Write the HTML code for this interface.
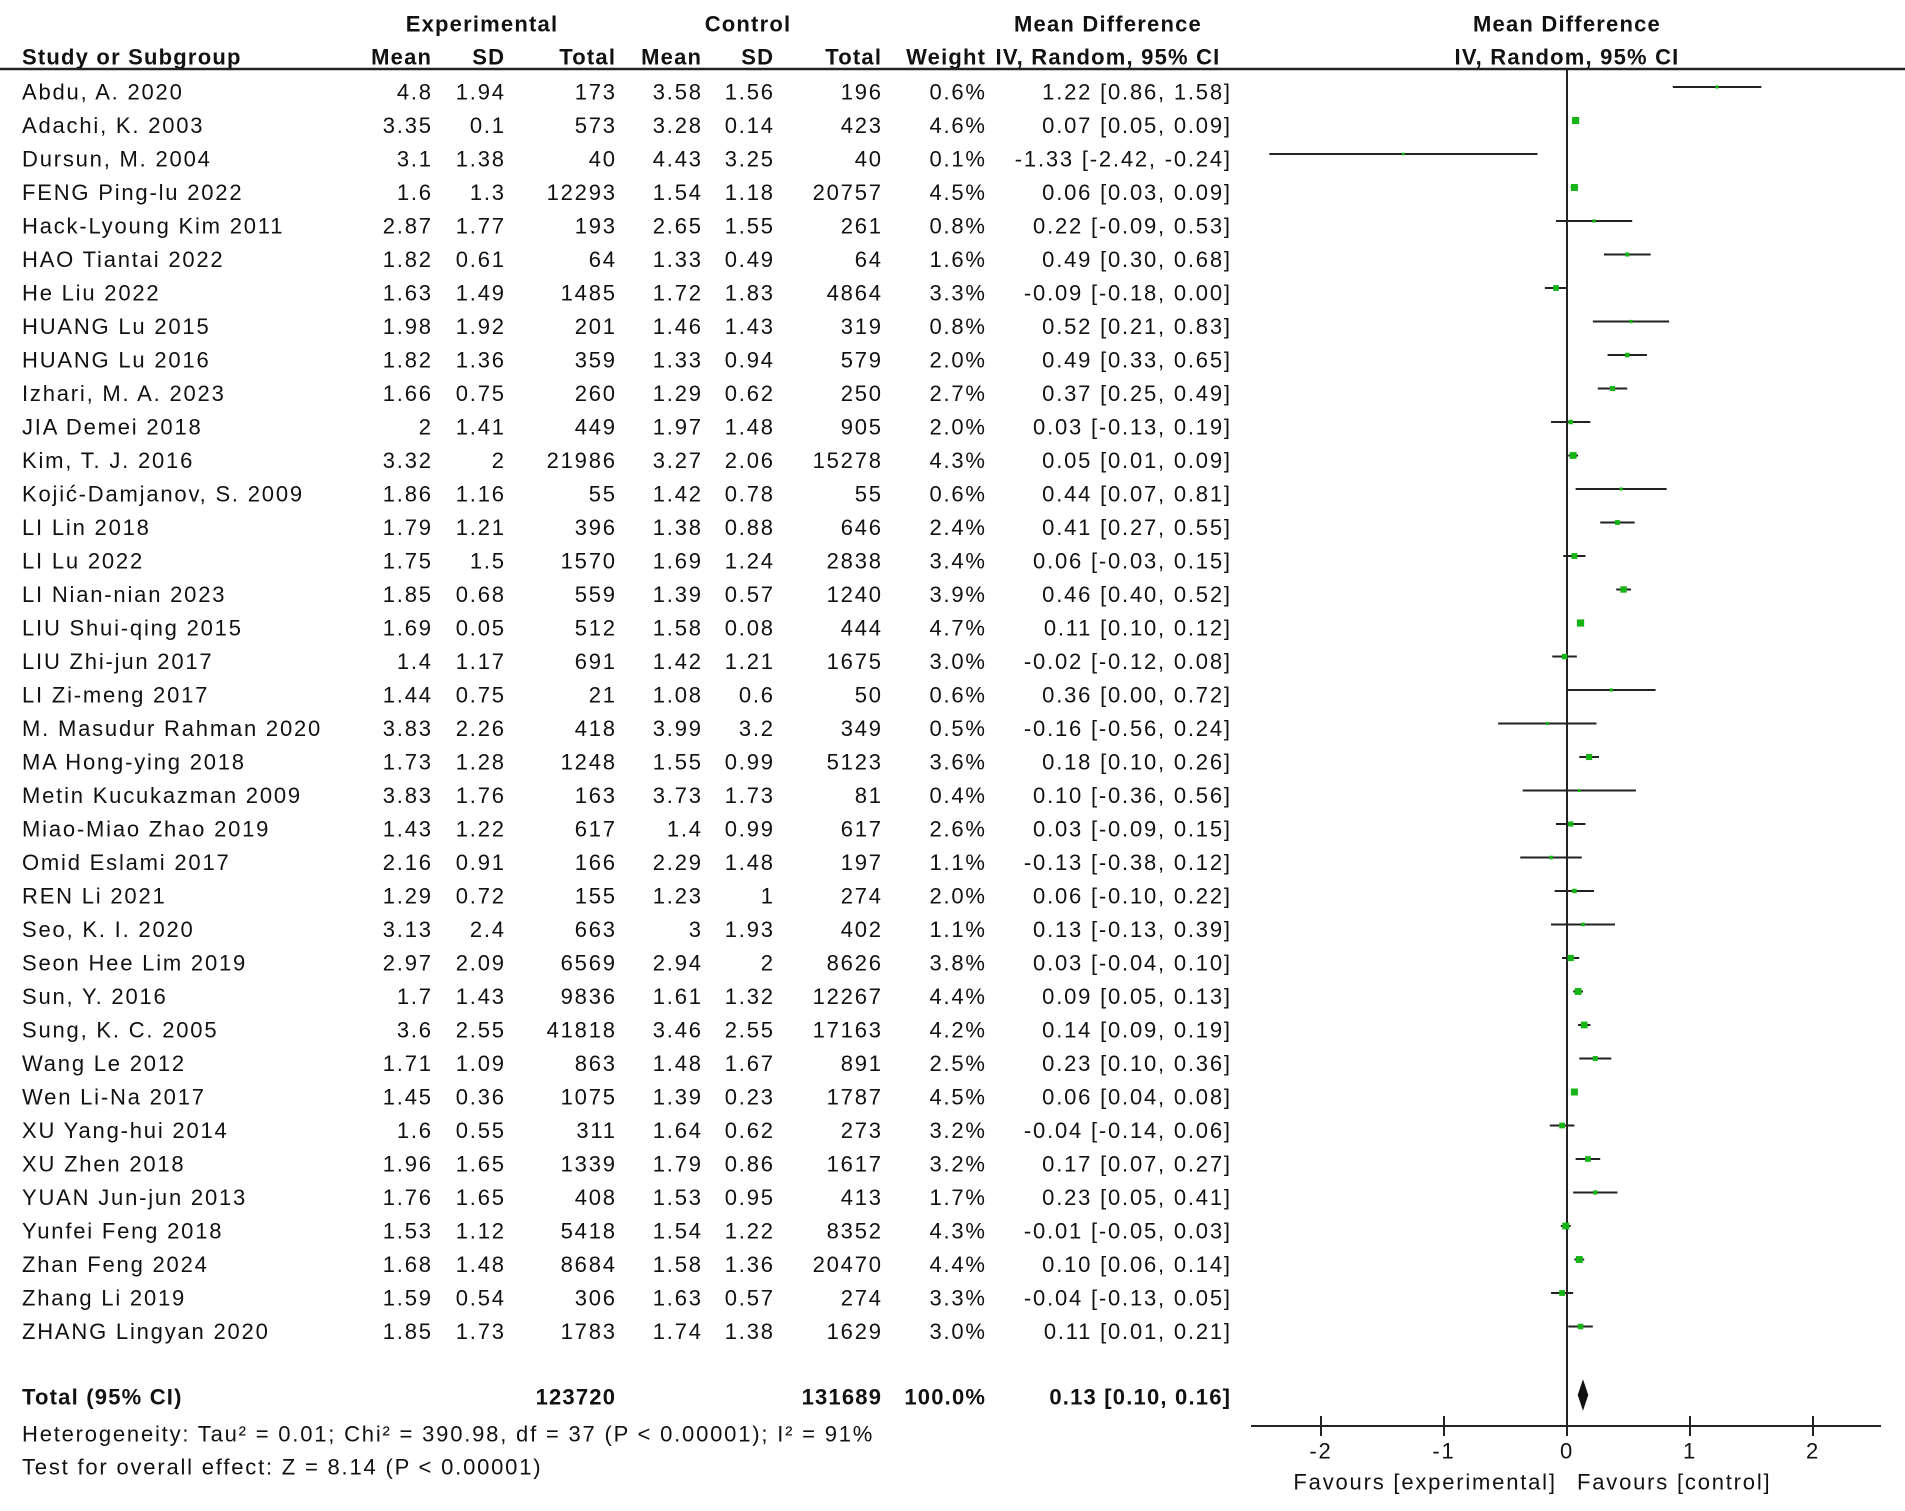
<!DOCTYPE html>
<html><head><meta charset="utf-8">
<style>
html,body{margin:0;padding:0;background:#fff;}
body{width:1905px;height:1511px;position:relative;overflow:hidden;font-family:"Liberation Sans",Arial,sans-serif;color:#111;}
svg{position:absolute;left:0;top:0;}
</style></head>
<body>
<svg id="chart" width="1905" height="1511" xmlns="http://www.w3.org/2000/svg"></svg>
<script>
const studies=["Abdu, A. 2020","Adachi, K. 2003","Dursun, M. 2004","FENG Ping-lu 2022","Hack-Lyoung Kim 2011","HAO Tiantai 2022","He Liu 2022","HUANG Lu 2015","HUANG Lu 2016","Izhari, M. A. 2023","JIA Demei 2018","Kim, T. J. 2016","Kojić-Damjanov, S. 2009","LI Lin 2018","LI Lu 2022","LI Nian-nian 2023","LIU Shui-qing 2015","LIU Zhi-jun 2017","LI Zi-meng 2017","M. Masudur Rahman 2020","MA Hong-ying 2018","Metin Kucukazman 2009","Miao-Miao Zhao 2019","Omid Eslami 2017","REN Li 2021","Seo, K. I. 2020","Seon Hee Lim 2019","Sun, Y. 2016","Sung, K. C. 2005","Wang Le 2012","Wen Li-Na 2017","XU Yang-hui 2014","XU Zhen 2018","YUAN Jun-jun 2013","Yunfei Feng 2018","Zhan Feng 2024","Zhang Li 2019","ZHANG Lingyan 2020"];
const expMean=["4.8","3.35","3.1","1.6","2.87","1.82","1.63","1.98","1.82","1.66","2","3.32","1.86","1.79","1.75","1.85","1.69","1.4","1.44","3.83","1.73","3.83","1.43","2.16","1.29","3.13","2.97","1.7","3.6","1.71","1.45","1.6","1.96","1.76","1.53","1.68","1.59","1.85"];
const expSD=["1.94","0.1","1.38","1.3","1.77","0.61","1.49","1.92","1.36","0.75","1.41","2","1.16","1.21","1.5","0.68","0.05","1.17","0.75","2.26","1.28","1.76","1.22","0.91","0.72","2.4","2.09","1.43","2.55","1.09","0.36","0.55","1.65","1.65","1.12","1.48","0.54","1.73"];
const expN=[173,573,40,12293,193,64,1485,201,359,260,449,21986,55,396,1570,559,512,691,21,418,1248,163,617,166,155,663,6569,9836,41818,863,1075,311,1339,408,5418,8684,306,1783];
const ctlMean=["3.58","3.28","4.43","1.54","2.65","1.33","1.72","1.46","1.33","1.29","1.97","3.27","1.42","1.38","1.69","1.39","1.58","1.42","1.08","3.99","1.55","3.73","1.4","2.29","1.23","3","2.94","1.61","3.46","1.48","1.39","1.64","1.79","1.53","1.54","1.58","1.63","1.74"];
const ctlSD=["1.56","0.14","3.25","1.18","1.55","0.49","1.83","1.43","0.94","0.62","1.48","2.06","0.78","0.88","1.24","0.57","0.08","1.21","0.6","3.2","0.99","1.73","0.99","1.48","1","1.93","2","1.32","2.55","1.67","0.23","0.62","0.86","0.95","1.22","1.36","0.57","1.38"];
const ctlN=[196,423,40,20757,261,64,4864,319,579,250,905,15278,55,646,2838,1240,444,1675,50,349,5123,81,617,197,274,402,8626,12267,17163,891,1787,273,1617,413,8352,20470,274,1629];
const weights=[0.6,4.6,0.1,4.5,0.8,1.6,3.3,0.8,2.0,2.7,2.0,4.3,0.6,2.4,3.4,3.9,4.7,3.0,0.6,0.5,3.6,0.4,2.6,1.1,2.0,1.1,3.8,4.4,4.2,2.5,4.5,3.2,3.2,1.7,4.3,4.4,3.3,3.0];
const md=[1.22,0.07,-1.33,0.06,0.22,0.49,-0.09,0.52,0.49,0.37,0.03,0.05,0.44,0.41,0.06,0.46,0.11,-0.02,0.36,-0.16,0.18,0.10,0.03,-0.13,0.06,0.13,0.03,0.09,0.14,0.23,0.06,-0.04,0.17,0.23,-0.01,0.10,-0.04,0.11];
const lo=[0.86,0.05,-2.42,0.03,-0.09,0.30,-0.18,0.21,0.33,0.25,-0.13,0.01,0.07,0.27,-0.03,0.40,0.10,-0.12,-0.00,-0.56,0.10,-0.36,-0.09,-0.38,-0.10,-0.13,-0.04,0.05,0.09,0.10,0.04,-0.14,0.07,0.05,-0.05,0.06,-0.13,0.01];
const hi=[1.58,0.09,-0.24,0.09,0.53,0.68,0.00,0.83,0.65,0.49,0.19,0.09,0.81,0.55,0.15,0.52,0.12,0.08,0.72,0.24,0.26,0.56,0.15,0.12,0.22,0.39,0.10,0.13,0.19,0.36,0.08,0.06,0.27,0.41,0.03,0.14,0.05,0.21];
const pooled=[0.13,0.10,0.16];
const xTicks=[-2,-1,0,1,2];

const svg=document.getElementById('chart');
const NS='http://www.w3.org/2000/svg';
const X0=1567,UNIT=123;
function xs(v){return X0+v*UNIT;}
function rowY(i){return 92+33.5*i;}
function el(tag,attrs,parent){const e=document.createElementNS(NS,tag);for(const k in attrs)e.setAttribute(k,attrs[k]);(parent||svg).appendChild(e);return e;}
function txt(s,x,y,anchor,opts){opts=opts||{};const ls=opts.bold?1.2:1.8;const t=el('text',{x:(anchor==='end'?x+ls:x),y:y,'text-anchor':anchor||'start','font-size':opts.size||22,'letter-spacing':ls,'font-weight':opts.bold?'bold':'normal','dominant-baseline':'central',fill:'#111','font-family':'"Liberation Sans",Arial,sans-serif'});t.textContent=s;return t;}

let h;
h=txt('Experimental',482,24,'middle',{bold:1});
h=txt('Control',748,24,'middle',{bold:1});
h=txt('Mean Difference',1108,24,'middle',{bold:1});
h=txt('Mean Difference',1567,24,'middle',{bold:1});
const sub=[['Study or Subgroup',22,'start'],['Mean',431,'end'],['SD',504,'end'],['Total',615,'end'],['Mean',701,'end'],['SD',773,'end'],['Total',881,'end'],['Weight',985,'end'],['IV, Random, 95% CI',1108,'middle'],['IV, Random, 95% CI',1567,'middle']];
sub.forEach(s=>{const t=txt(s[0],s[1],57,s[2],{bold:1});});
const hl=el('line',{x1:0,y1:69,x2:1905,y2:69,stroke:'#222','stroke-width':2.5});



const zl=el('line',{x1:xs(0),y1:69,x2:xs(0),y2:1426,stroke:'#222','stroke-width':2});



const f2=v=>(v<0?'-':'')+Math.abs(v).toFixed(2);
studies.forEach((s,i)=>{
  const y=rowY(i);
  const g=el('g',{});
  
  
  const cells=[[s,22,'start'],[expMean[i],431,'end'],[expSD[i],504,'end'],[String(expN[i]),615,'end'],[ctlMean[i],701,'end'],[ctlSD[i],773,'end'],[String(ctlN[i]),881,'end'],[weights[i].toFixed(1)+'%',985,'end'],[f2(md[i])+' ['+f2(lo[i])+', '+f2(hi[i])+']',1230,'end']];
  cells.forEach(c=>{const t=txt(c[0],c[1],y,c[2]);g.appendChild(t);});
  const my=y-5;
  const ci=el('line',{x1:xs(lo[i]),y1:my,x2:xs(hi[i]),y2:my,stroke:'#222','stroke-width':2});
  
  
  const sz=2.5+weights[i]*1.0;
  const sq=el('rect',{x:xs(md[i])-sz/2,y:my-sz/2,width:sz,height:sz,fill:'#16b516'});
  
  
});

const ty=1397;
[['Total (95% CI)',22,'start'],['123720',615,'end'],['131689',881,'end'],['100.0%',985,'end'],[pooled[0].toFixed(2)+' ['+pooled[1].toFixed(2)+', '+pooled[2].toFixed(2)+']',1230,'end']].forEach(c=>{const t=txt(c[0],c[1],ty,c[2],{bold:1});});
const dm=el('polygon',{points:`${xs(pooled[1])},${ty-2} ${xs(pooled[0])},${ty-13} ${xs(pooled[2])},${ty-2} ${xs(pooled[0])},${ty+9}`,fill:'#111',stroke:'#111','stroke-width':3});


let t;
t=txt('Heterogeneity: Tau² = 0.01; Chi² = 390.98, df = 37 (P < 0.00001); I² = 91%',22,1434,'start');

t=txt('Test for overall effect: Z = 8.14 (P < 0.00001)',22,1467,'start');


const ax=el('line',{x1:1251,y1:1426,x2:1881,y2:1426,stroke:'#222','stroke-width':2});


xTicks.forEach(v=>{
  const tk=el('line',{x1:xs(v),y1:1416,x2:xs(v),y2:1436,stroke:'#222','stroke-width':2});
  
  
  const lb=txt(String(v),xs(v),1451,'middle');
  
  
});
t=txt('Favours [experimental]',1555,1482,'end');

t=txt('Favours [control]',1577,1482,'start');

</script>
</body></html>
